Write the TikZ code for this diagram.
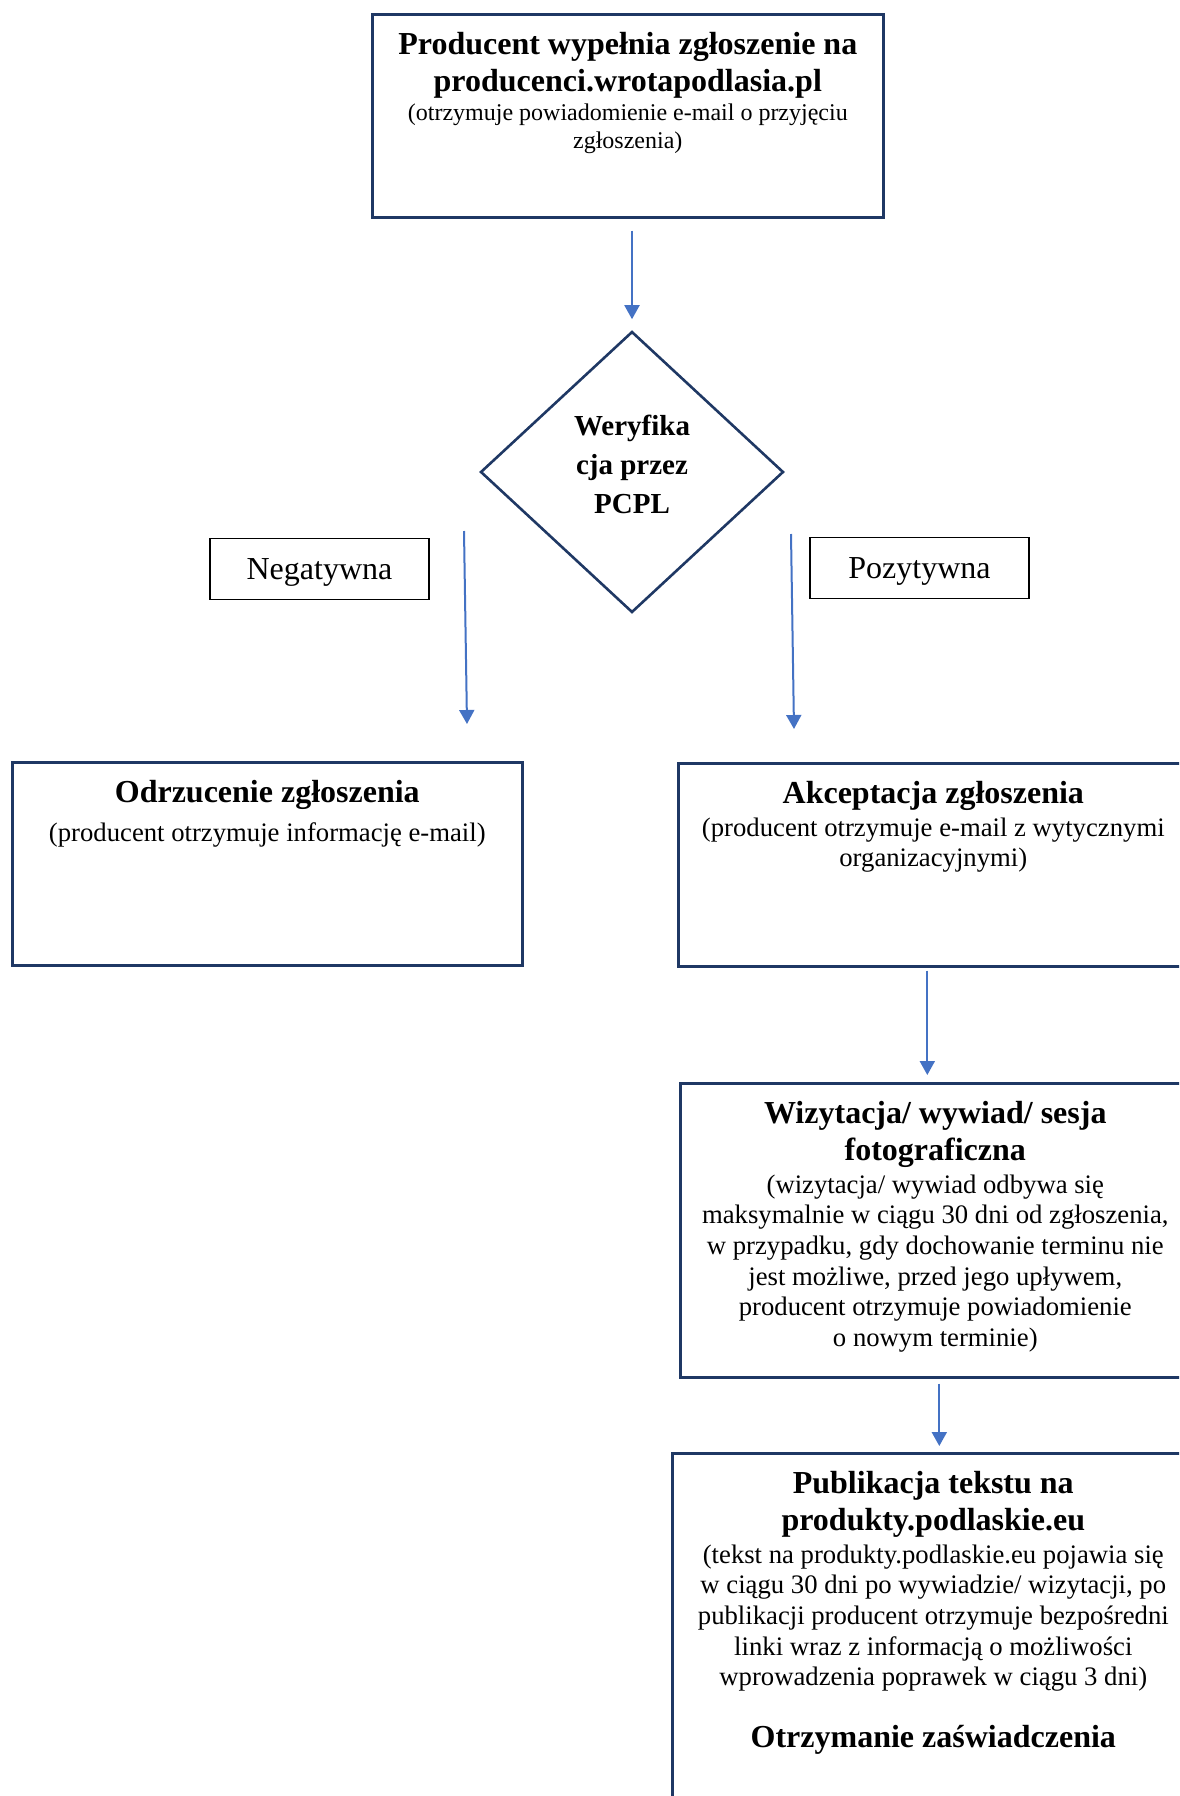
\documentclass[tikz,border=0pt]{standalone}
\usepackage{fontspec}
\setmainfont{Liberation Serif}
\usetikzlibrary{shapes.geometric,arrows.meta}
\definecolor{boxnavy}{HTML}{1F3864}
\definecolor{arrowblue}{HTML}{4472C4}
\newcommand{\tytul}{\fontsize{32}{36.8}\selectfont\bfseries}
\newcommand{\opis}{\fontsize{26.7}{30.7}\selectfont\mdseries}
\newcommand{\opismaly}{\fontsize{24}{27.6}\selectfont\mdseries}

\begin{document}
\begin{tikzpicture}[x=1pt,y=-1pt,
        box/.style={draw=boxnavy,line width=2.6pt,inner sep=0pt,anchor=north west},
        decision/.style={draw=boxnavy,line width=2.6pt,diamond,inner sep=0pt,minimum width=303pt,minimum height=281pt},
        answer/.style={draw=black,line width=1.4pt,inner sep=0pt,minimum width=219pt,minimum height=61pt,text depth=0pt,font=\fontsize{32}{36.8}\selectfont},
        arr/.style={draw=arrowblue,line width=2pt,-{Triangle[width=15pt,length=14pt]}}]
    \useasboundingbox (0,0) rectangle (1179,1796);
    \clip (0,0) rectangle (1179,1796);
    \node[box] (zgl) at (371,13) {\parbox[c][203pt][t]{511pt}{\centering\vspace*{14.5pt}
        \tytul\strut Producent wypełnia zgłoszenie na\\ producenci.wrotapodlasia.pl\par\vspace{2pt}
        \opismaly (otrzymuje powiadomienie e-mail o przyjęciu\\ zgłoszenia)}};
    \node[decision] (dia) at (632,472) {};
    \node[font=\fontsize{29}{39}\selectfont\bfseries,align=center] (diatxt) at ([yshift=7.5pt]dia.center) {Weryfika\\cja przez\\PCPL};
    \node[answer] (neg) at (319.5,569) {Negatywna};
    \node[answer] (poz) at (919.5,568) {Pozytywna};
    \node[box] (odrz) at (11,761) {\parbox[c][203pt][t]{510pt}{\centering\vspace*{14.5pt}
        \tytul\strut Odrzucenie zgłoszenia\par\vspace{8pt}
        \opis (producent otrzymuje informację e-mail)}};
    \node[box] (akc) at (677,762) {\parbox[c][203pt][t]{510pt}{\centering\vspace*{14.5pt}
        \tytul\strut Akceptacja zgłoszenia\par\vspace{2pt}
        \opis (producent otrzymuje e-mail z wytycznymi\\ organizacyjnymi)}};
    \node[box] (wiz) at (679,1082) {\parbox[c][294pt][t]{510pt}{\centering\vspace*{14.5pt}
        \tytul\strut Wizytacja/ wywiad/ sesja\\ fotograficzna\par\vspace{2pt}
        \opis (wizytacja/ wywiad odbywa się\\ maksymalnie w ciągu 30 dni od zgłoszenia,\\ w przypadku, gdy dochowanie terminu nie\\ jest możliwe, przed jego upływem,\\ producent otrzymuje powiadomienie\\ o nowym terminie)}};
    \node[box] (pub) at (671,1452) {\parbox[c][400pt][t]{522pt}{\centering\vspace*{14.5pt}
        \tytul\strut Publikacja tekstu na\\ produkty.podlaskie.eu\par\vspace{2pt}
        \opis (tekst na produkty.podlaskie.eu pojawia się\\ w ciągu 30 dni po wywiadzie/ wizytacji, po\\ publikacji producent otrzymuje bezpośredni\\ linki wraz z informacją o możliwości\\ wprowadzenia poprawek w ciągu 3 dni)\par\vspace{25pt}
        \tytul Otrzymanie zaświadczenia}};
    % strzalki
    \coordinate (negA) at (464,531);
    \coordinate (negB) at (467,724);
    \coordinate (pozA) at (791,534);
    \coordinate (pozB) at (794,729);
    \draw[arr,shorten <=12pt,shorten >=11pt] (dia.north |- zgl.south) -- (dia.north);
    \draw[arr] (negA) -- (negB);
    \draw[arr] (pozA) -- (pozB);
    \draw[arr,shorten <=3pt,shorten >=7pt] ([xshift=-6pt]akc.south) -- ([xshift=-6pt]akc.south |- wiz.north);
    \draw[arr,shorten <=5pt,shorten >=6pt] ([xshift=4pt]wiz.south) -- ([xshift=4pt]wiz.south |- pub.north);
\end{tikzpicture}
\end{document}
